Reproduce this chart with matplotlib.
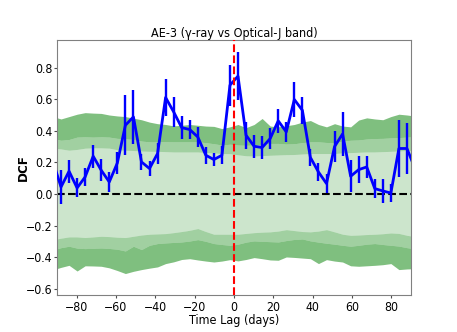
import numpy as np
import matplotlib
matplotlib.use("Agg")
import matplotlib.pyplot as plt

# lag bins: 44 bins over +-90 days plus one extra bin on each side (clipped by xlim)
bin_width = 180 / 44
lag = (np.arange(46) - 22.5) * bin_width

dcf = [0.206, 0.044, 0.144, 0.038, 0.108, 0.239, 0.150, 0.076, 0.196, 0.435,
       0.488, 0.203, 0.161, 0.256, 0.611, 0.520, 0.420, 0.408, 0.361, 0.245,
       0.218, 0.245, 0.689, 0.746, 0.372, 0.302, 0.294, 0.351, 0.463, 0.393,
       0.598, 0.530, 0.231, 0.139, 0.066, 0.300, 0.380, 0.112, 0.154, 0.171,
       0.034, 0.019, 0.006, 0.288, 0.288, 0.160]
dcf_err = [0.100, 0.105, 0.074, 0.060, 0.058, 0.074, 0.071, 0.065, 0.070, 0.190,
           0.170, 0.050, 0.045, 0.065, 0.120, 0.095, 0.072, 0.063, 0.063, 0.053,
           0.042, 0.058, 0.130, 0.150, 0.085, 0.074, 0.070, 0.066, 0.077, 0.063,
           0.110, 0.085, 0.053, 0.060, 0.058, 0.097, 0.137, 0.100, 0.085, 0.070,
           0.060, 0.077, 0.060, 0.180, 0.160, 0.100]

# significance levels (upper / lower), innermost to outermost
up1 = [0.290, 0.285, 0.277, 0.282, 0.290, 0.292, 0.292, 0.290, 0.280, 0.277,
       0.275, 0.272, 0.270, 0.270, 0.268, 0.266, 0.266, 0.266, 0.266, 0.262,
       0.260, 0.256, 0.255, 0.248, 0.242, 0.240, 0.243, 0.245, 0.247, 0.249,
       0.250, 0.253, 0.256, 0.256, 0.256, 0.256, 0.260, 0.262, 0.264, 0.266,
       0.266, 0.268, 0.270, 0.272, 0.275, 0.277]
up2 = [0.350, 0.340, 0.345, 0.360, 0.362, 0.360, 0.362, 0.360, 0.352, 0.350,
       0.345, 0.335, 0.330, 0.330, 0.332, 0.330, 0.330, 0.330, 0.330, 0.325,
       0.318, 0.310, 0.315, 0.310, 0.308, 0.310, 0.315, 0.320, 0.320, 0.316,
       0.318, 0.325, 0.330, 0.330, 0.326, 0.325, 0.335, 0.340, 0.342, 0.348,
       0.351, 0.352, 0.355, 0.357, 0.360, 0.362]
up3 = [0.490, 0.475, 0.490, 0.505, 0.515, 0.512, 0.510, 0.500, 0.494, 0.490,
       0.480, 0.470, 0.455, 0.445, 0.440, 0.431, 0.435, 0.440, 0.435, 0.430,
       0.428, 0.414, 0.425, 0.440, 0.420, 0.440, 0.478, 0.430, 0.425, 0.432,
       0.440, 0.455, 0.465, 0.440, 0.425, 0.445, 0.430, 0.425, 0.468, 0.482,
       0.475, 0.470, 0.490, 0.505, 0.500, 0.493]
lo1 = [-0.290, -0.280, -0.272, -0.272, -0.276, -0.272, -0.268, -0.270, -0.274, -0.276,
       -0.268, -0.260, -0.255, -0.253, -0.251, -0.245, -0.238, -0.230, -0.219, -0.238,
       -0.255, -0.255, -0.255, -0.255, -0.250, -0.245, -0.242, -0.240, -0.235, -0.226,
       -0.232, -0.238, -0.240, -0.235, -0.226, -0.240, -0.255, -0.262, -0.260, -0.257,
       -0.255, -0.252, -0.247, -0.250, -0.262, -0.270]
lo2 = [-0.355, -0.340, -0.331, -0.343, -0.346, -0.344, -0.342, -0.345, -0.350, -0.361,
       -0.331, -0.352, -0.325, -0.314, -0.310, -0.307, -0.304, -0.298, -0.289, -0.300,
       -0.314, -0.320, -0.325, -0.318, -0.305, -0.297, -0.300, -0.302, -0.304, -0.295,
       -0.288, -0.285, -0.297, -0.305, -0.312, -0.318, -0.325, -0.331, -0.325, -0.318,
       -0.314, -0.320, -0.325, -0.330, -0.340, -0.348]
lo3 = [-0.480, -0.465, -0.452, -0.488, -0.455, -0.456, -0.458, -0.468, -0.485, -0.504,
       -0.490, -0.479, -0.470, -0.462, -0.441, -0.430, -0.415, -0.410, -0.418, -0.425,
       -0.431, -0.425, -0.416, -0.424, -0.415, -0.403, -0.410, -0.418, -0.420, -0.399,
       -0.402, -0.406, -0.410, -0.441, -0.416, -0.425, -0.431, -0.455, -0.458, -0.455,
       -0.452, -0.448, -0.441, -0.479, -0.475, -0.473]

# the reference text is narrow: DejaVu Sans Condensed
plt.rcParams["font.family"] = ["DejaVu Sans"]
plt.rcParams["font.stretch"] = "condensed"

fig = plt.figure(figsize=(4.57, 3.32), dpi=100)
ax = fig.add_axes([0.1247, 0.1114, 0.7746, 0.7681])

ax.fill_between(lag, lo1, up1, color="green", alpha=0.2, lw=0)
ax.fill_between(lag, up1, up2, color="green", alpha=0.37, lw=0)
ax.fill_between(lag, lo2, lo1, color="green", alpha=0.37, lw=0)
ax.fill_between(lag, up2, up3, color="green", alpha=0.5, lw=0)
ax.fill_between(lag, lo3, lo2, color="green", alpha=0.5, lw=0)

ax.axhline(0, color="black", ls="--", lw=1.5, zorder=2)
ax.errorbar(lag, dcf, yerr=dcf_err, color="blue", lw=2, elinewidth=1.7,
            capsize=0, zorder=3)
ax.axvline(0, color="red", ls="--", lw=1.5, zorder=4)

ax.set_xlim(-90, 90)
ax.set_ylim(-0.64, 0.975)
ax.set_xticks(np.arange(-80, 81, 20))
ax.set_yticks(np.round(np.arange(-0.6, 0.81, 0.2), 1))
ax.tick_params(labelsize=8.8, length=2, color="0.3")
ax.tick_params(axis="x", pad=2.2)
ax.tick_params(axis="y", pad=1.2)
for s in ax.spines.values():
    s.set_color("0.5")

ax.set_title("AE-3 (γ-ray vs Optical-J band)", fontsize=9, pad=0.5)
ax.set_xlabel("Time Lag (days)", fontsize=9, labelpad=0)
ax.set_ylabel("DCF", fontsize=9.5, fontweight="bold")
ax.yaxis.set_label_coords(-0.078, 0.5)

fig.savefig("out.png", dpi=100)
